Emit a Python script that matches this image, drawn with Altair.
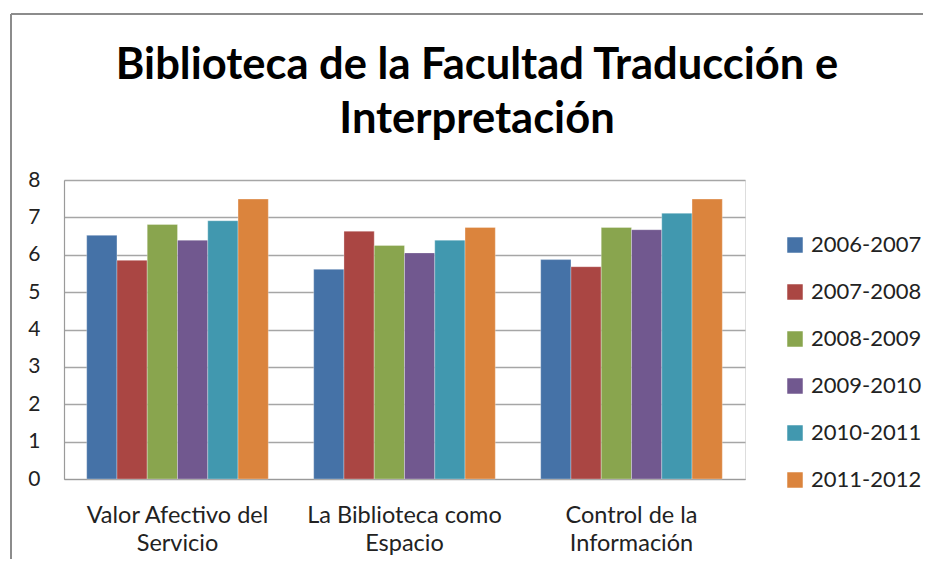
import altair as alt
import pandas as pd

title_lines = ["Biblioteca de la Facultad Traducción e", "Interpretación"]
categories = ["Valor Afectivo del Servicio", "La Biblioteca como Espacio", "Control de la Información"]
category_lines = [["Valor Afectivo del", "Servicio"], ["La Biblioteca como", "Espacio"], ["Control de la", "Información"]]
series = ["2006-2007", "2007-2008", "2008-2009", "2009-2010", "2010-2011", "2011-2012"]
colors = ["#4572A7", "#AA4643", "#89A54E", "#71588F", "#4198AF", "#DB843D"]

values_2006_2007 = [6.52, 5.61, 5.87]
values_2007_2008 = [5.85, 6.63, 5.68]
values_2008_2009 = [6.81, 6.25, 6.73]
values_2009_2010 = [6.39, 6.05, 6.67]
values_2010_2011 = [6.91, 6.39, 7.11]
values_2011_2012 = [7.49, 6.73, 7.49]

all_values = [values_2006_2007, values_2007_2008, values_2008_2009,
              values_2009_2010, values_2010_2011, values_2011_2012]

rows = []
for s, vals in zip(series, all_values):
    for c, v in zip(categories, vals):
        rows.append({"categoria": c, "curso": s, "valor": v})
df = pd.DataFrame(rows)

label_expr = " : ".join(
    f"datum.label == '{c}' ? {lines!r}" for c, lines in zip(categories, category_lines)
) + " : datum.label"

FONT = "Lato"

bars = alt.Chart(df).mark_bar(stroke="white", strokeWidth=0.6, strokeOpacity=0.5).encode(
    x=alt.X("categoria:N", sort=categories, title=None,
            scale=alt.Scale(paddingInner=0.2, paddingOuter=0.1),
            axis=alt.Axis(labelAngle=0, labelExpr=label_expr, labelFontSize=23.5,
                          labelFont=FONT, labelColor="#222222", labelPadding=24,
                          labelLineHeight=28, labelLimit=400, ticks=False,
                          domainColor="#9a9a9a", domainWidth=1.2, labelBaseline="top")),
    xOffset=alt.XOffset("curso:N", sort=series),
    y=alt.Y("valor:Q", title=None,
            scale=alt.Scale(domain=[0, 8], nice=False),
            axis=alt.Axis(values=[0, 1, 2, 3, 4, 5, 6, 7, 8], labelFontSize=21,
                          labelFont=FONT, labelColor="#222222", labelPadding=24,
                          ticks=False, gridColor="#a6a6a6", gridWidth=1.3,
                          domainColor="#9a9a9a", domainWidth=1.2)),
    color=alt.Color("curso:N", sort=series,
                    scale=alt.Scale(domain=series, range=colors),
                    legend=alt.Legend(title=None, orient="none", legendX=720, legendY=54,
                                      symbolType="square", symbolSize=240,
                                      symbolStrokeWidth=0, labelFontSize=22,
                                      labelFont=FONT, labelColor="#222222",
                                      labelOffset=5, rowPadding=25, labelLimit=200)),
)

title_df = pd.DataFrame({"t": ["\n".join(title_lines)]})
title = alt.Chart(title_df).mark_text(
    font=FONT, fontSize=43.5, fontWeight="bold", color="#000000",
    align="center", baseline="middle", lineBreak="\n", lineHeight=54,
).encode(text="t:N", x=alt.value(413), y=alt.value(-114))

frame_df = pd.DataFrame({"k": [0]})
left_line = alt.Chart(frame_df).mark_rule(color="#8c8c8c", strokeWidth=2, clip=False).encode(
    x=alt.value(-53), y=alt.value(-166), y2=alt.value(400))
top_line = alt.Chart(frame_df).mark_rule(color="#8c8c8c", strokeWidth=2, clip=False).encode(
    x=alt.value(-53), x2=alt.value(866), y=alt.value(-166))

chart = alt.layer(bars, title, left_line, top_line).properties(
    width=681, height=299,
    autosize=alt.AutoSizeParams(type="none"),
    padding={"left": 56, "top": 172, "right": 178, "bottom": 80},
).configure_view(stroke=None).configure(background="white")

chart.save("out.html", embed_options={"renderer": "svg", "actions": False})
